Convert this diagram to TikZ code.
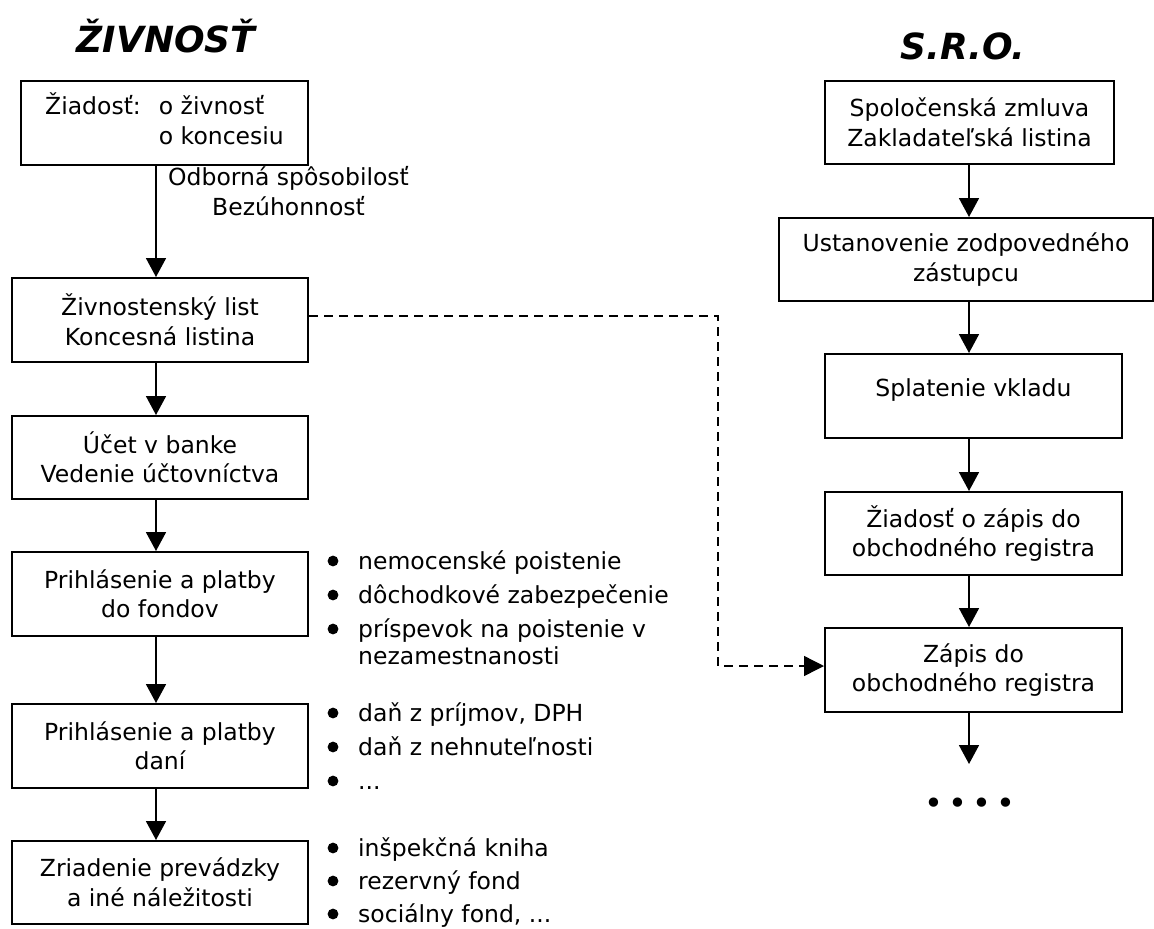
\documentclass[tikz,border=0pt]{standalone}
\usepackage{fontspec}
\setmainfont{DejaVu Sans}[BoldFont={DejaVu Sans Bold},ItalicFont={DejaVu Sans Oblique},BoldItalicFont={DejaVu Sans Bold Oblique}]
\usetikzlibrary{arrows.meta,calc}
\newcommand\boxfont{\fontsize{23.5}{29.5}\selectfont}
\newcommand\titlefont{\fontsize{36}{40}\selectfont\bfseries\itshape}
\begin{document}
\begin{tikzpicture}[x=1pt,y=-1pt,
  box/.style={draw,line width=2pt,inner sep=0pt,align=center,font=\boxfont},
  arr/.style={line width=1.8pt,-{Triangle[length=19pt,width=20pt]}},
  dasharr/.style={line width=1.4pt,dash pattern=on 9pt off 6pt,-{Triangle[length=20pt,width=20pt]}},
  item/.style={anchor=base west,inner sep=0pt,font=\boxfont},
  dot/.style={fill=black}]
\useasboundingbox (0,0) rectangle (1154,929);

% headings
\node[anchor=base,inner sep=0pt,font=\titlefont] (t1) at (166,52) {ŽIVNOSŤ};
\node[anchor=base,inner sep=0pt,font=\titlefont] (t2) at (963,59) {S.R.O.};

% left column
\node[box,minimum width=287pt,minimum height=84pt] (b1) at (164.5,123)
  {\begin{tabular}{@{}l@{\hspace{18pt}}l@{}}Žiadosť: & o živnosť\\ & o koncesiu\end{tabular}};
\node[box,minimum width=296pt,minimum height=84pt] (b2) at (160,320) {Živnostenský list\\Koncesná listina};
\node[box,minimum width=296pt,minimum height=83pt] (b3) at (160,457.5) {Účet v banke\\Vedenie účtovníctva};
\node[box,minimum width=296pt,minimum height=84pt] (b4) at (160,594) {Prihlásenie a platby\\do fondov};
\node[box,minimum width=296pt,minimum height=84pt] (b5) at (160,746) {Prihlásenie a platby\\daní};
\node[box,minimum width=296pt,minimum height=83pt] (b6) at (160,882.5) {Zriadenie prevádzky\\a iné náležitosti};

\coordinate (lx) at (156,0);
\draw[arr] (b1.south -| lx) -- (b2.north -| lx);
\draw[arr] (b2.south -| lx) -- (b3.north -| lx);
\draw[arr] (b3.south -| lx) -- (b4.north -| lx);
\draw[arr] (b4.south -| lx) -- (b5.north -| lx);
\draw[arr] (b5.south -| lx) -- (b6.north -| lx);

\node[item,align=left] (lab) at (168,215) {Odborná spôsobilosť\\\hspace*{44pt}Bezúhonnosť};

% bullet lists
\node[item] (l1a) at (358,569) {nemocenské poistenie};
\node[item] (l1b) at (358,603) {dôchodkové zabezpečenie};
\node[item] (l1c) at (358,637) {príspevok na poistenie v};
\node[item] (l1d) at (358,664) {nezamestnanosti};
\node[item] (l2a) at (358,721) {daň z príjmov, DPH};
\node[item] (l2b) at (358,755) {daň z nehnuteľnosti};
\node[item] (l2c) at (358,789) {...};
\node[item] (l3a) at (358,856) {inšpekčná kniha};
\node[item] (l3b) at (358,889) {rezervný fond};
\node[item] (l3c) at (358,922) {sociálny fond, ...};
\foreach \n in {l1a,l1b,l1c,l2a,l2b,l2c,l3a,l3b,l3c}
  \fill[dot] ($(\n.base west)+(-25,-8)$) circle (5.4pt);

% right column
\node[box,minimum width=289pt,minimum height=83pt] (r1) at (969.5,122.5) {Spoločenská zmluva\\Zakladateľská listina};
\node[box,minimum width=374pt,minimum height=83pt] (r2) at (966,259.5) {Ustanovenie zodpovedného\\zástupcu};
\node[box,minimum width=297pt,minimum height=84pt,text depth=16pt] (r3) at (973.5,396) {Splatenie vkladu};
\node[box,minimum width=297pt,minimum height=83pt] (r4) at (973.5,533.5) {Žiadosť o zápis do\\obchodného registra};
\node[box,minimum width=297pt,minimum height=84pt] (r5) at (973.5,670) {Zápis do\\obchodného registra};

\coordinate (rx) at (969,0);
\coordinate (rend) at (969,764);
\draw[arr] (r1.south -| rx) -- (r2.north -| rx);
\draw[arr] (r2.south -| rx) -- (r3.north -| rx);
\draw[arr] (r3.south -| rx) -- (r4.north -| rx);
\draw[arr] (r4.south -| rx) -- (r5.north -| rx);
\draw[arr] (r5.south -| rx) -- (rend);

\node[inner sep=0pt,font=\fontsize{32}{32}\selectfont] (more) at (970,806) {•\hspace{5.1pt}•\hspace{5.1pt}•\hspace{5.1pt}•};

% link between the two columns
\coordinate (d1) at (718,316);
\coordinate (d2) at (718,666);
\draw[dasharr] (b2.east |- d1) -- (d1) -- (d2) -- (d2 -| r5.west);
\end{tikzpicture}
\end{document}
